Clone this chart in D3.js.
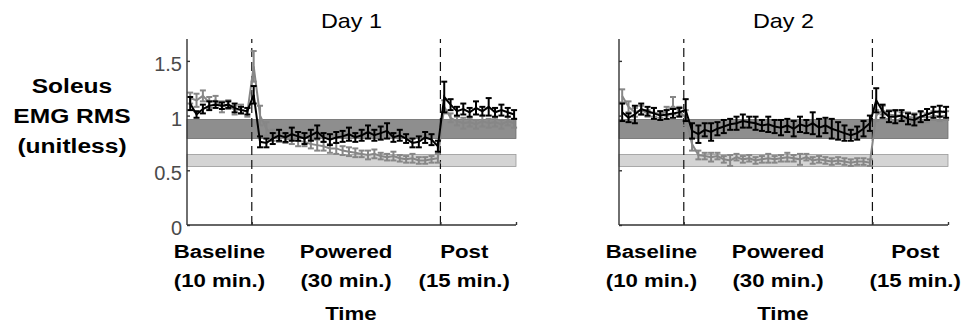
<!DOCTYPE html>
<html>
<head>
<meta charset="utf-8">
<script src="https://cdn.jsdelivr.net/npm/d3@7"></script>
<style>
  body { margin: 0; background: #fff; }
  svg { display: block; font-family: "Liberation Sans", Arial, sans-serif; }
</style>
</head>
<body>
<svg id="chart" width="968" height="327"></svg>
<script>
// Phase labels and the boundaries between phases (sample index).
var phaseNames = ["Baseline", "Powered", "Post"];
var phaseDurations = ["(10 min.)", "(30 min.)", "(15 min.)"];
var phaseBounds = [9.7, 39.4];
var yTicks = [0, 0.5, 1, 1.5];
var yTickLabels = ["0", "0.5", "1", "1.5"];

// Reference bands (normalised EMG).
var darkBand = [0.79, 0.965];
var lightBand = [0.535, 0.645];

// Day 1: 10 baseline, 30 powered, 12 post samples.
var day1Black = [1.11, 1.01, 1.06, 1.09, 1.10, 1.09, 1.10, 1.07, 1.05, 1.04,
  1.19,
  0.76, 0.75, 0.79, 0.82, 0.80, 0.83, 0.81, 0.79, 0.82, 0.85, 0.80, 0.78, 0.80, 0.81, 0.83,
  0.80, 0.82, 0.85, 0.82, 0.84, 0.86, 0.80, 0.82, 0.79, 0.75, 0.76, 0.80, 0.78, 0.72,
  1.17, 1.10, 1.04, 1.06, 1.03, 1.07, 1.04, 1.08, 1.03, 1.05, 1.03, 1.01];
var day1BlackErr = [0.06, 0.03, 0.04, 0.04, 0.03, 0.03, 0.03, 0.04, 0.03, 0.03,
  0.08,
  0.05, 0.04, 0.05, 0.05, 0.04, 0.06, 0.04, 0.05, 0.05, 0.06, 0.04, 0.05, 0.05, 0.05, 0.06,
  0.04, 0.05, 0.06, 0.05, 0.06, 0.07, 0.04, 0.05, 0.04, 0.04, 0.05, 0.05, 0.05, 0.05,
  0.14, 0.05, 0.04, 0.05, 0.04, 0.06, 0.04, 0.08, 0.04, 0.05, 0.04, 0.04];
var day1Gray = [1.16, 1.14, 1.18, 1.12, 1.14, 1.08, 1.10, 1.05, 1.06, 1.03,
  1.45,
  1.00, 0.88, 0.82, 0.80, 0.79, 0.78, 0.77, 0.76, 0.74, 0.73, 0.72, 0.70, 0.70, 0.68, 0.67,
  0.66, 0.65, 0.64, 0.65, 0.63, 0.62, 0.63, 0.61, 0.60, 0.61, 0.59, 0.59, 0.60, 0.61,
  1.08, 0.98, 0.95, 0.93, 0.94, 0.92, 0.95, 0.93, 0.94, 0.92, 0.95, 0.93];
var day1GrayErr = [0.05, 0.06, 0.05, 0.05, 0.04, 0.05, 0.04, 0.04, 0.04, 0.04,
  0.14,
  0.09, 0.06, 0.05, 0.04, 0.04, 0.04, 0.05, 0.04, 0.04, 0.05, 0.04, 0.04, 0.05, 0.04, 0.04,
  0.04, 0.03, 0.04, 0.04, 0.03, 0.03, 0.04, 0.03, 0.03, 0.04, 0.03, 0.03, 0.03, 0.04,
  0.06, 0.04, 0.04, 0.05, 0.04, 0.04, 0.05, 0.04, 0.04, 0.04, 0.04, 0.04];

// Day 2.
var day2Black = [1.03, 0.98, 1.01, 1.06, 1.04, 1.02, 1.00, 1.01, 1.02, 1.03,
  1.05,
  0.86, 0.83, 0.87, 0.85, 0.88, 0.90, 0.92, 0.93, 0.95, 0.94, 0.93, 0.91, 0.92, 0.90, 0.89,
  0.91, 0.88, 0.92, 0.90, 0.93, 0.89, 0.91, 0.88, 0.86, 0.84, 0.82, 0.84, 0.88, 0.93,
  1.14, 1.04, 0.99, 0.99, 1.00, 0.97, 0.96, 0.99, 1.01, 1.03, 1.04, 1.03];
var day2BlackErr = [0.08, 0.04, 0.08, 0.05, 0.04, 0.05, 0.04, 0.04, 0.04, 0.04,
  0.10,
  0.07, 0.08, 0.06, 0.08, 0.06, 0.06, 0.05, 0.06, 0.06, 0.05, 0.06, 0.05, 0.07, 0.06, 0.07,
  0.06, 0.07, 0.07, 0.06, 0.10, 0.08, 0.07, 0.09, 0.08, 0.07, 0.05, 0.06, 0.07, 0.07,
  0.11, 0.06, 0.05, 0.06, 0.05, 0.05, 0.05, 0.05, 0.05, 0.05, 0.05, 0.05];
var day2Gray = [1.18, 1.08, 1.03, 1.05, 1.02, 1.03, 1.01, 1.04, 1.09, 1.04,
  0.98,
  0.74, 0.64, 0.63, 0.62, 0.63, 0.60, 0.59, 0.62, 0.60, 0.61, 0.59, 0.60, 0.61, 0.60, 0.61,
  0.62, 0.61, 0.60, 0.62, 0.59, 0.60, 0.59, 0.58, 0.59, 0.58, 0.57, 0.58, 0.58, 0.57,
  1.00, 1.05, 1.01, 1.00, 1.00, 0.99, 0.98, 0.99, 0.98, 1.00, 0.99, 1.00];
var day2GrayErr = [0.06, 0.05, 0.04, 0.04, 0.03, 0.04, 0.03, 0.04, 0.08, 0.04,
  0.07,
  0.06, 0.04, 0.03, 0.04, 0.03, 0.03, 0.05, 0.03, 0.03, 0.03, 0.03, 0.03, 0.04, 0.03, 0.03,
  0.04, 0.03, 0.05, 0.03, 0.03, 0.03, 0.03, 0.03, 0.03, 0.03, 0.03, 0.03, 0.03, 0.03,
  0.05, 0.04, 0.04, 0.04, 0.03, 0.04, 0.04, 0.04, 0.04, 0.04, 0.04, 0.04];

// Layout.
var my = {
  top: 39,
  height: 186,
  width: 329,
  stretch: 1.17,       // text in the source figure is horizontally stretched
  blackColor: "#000",
  grayColor: "#878787",
  capHalf: 3,
  panels: [
    {left: 187, title: "Day 1", black: day1Black, blackErr: day1BlackErr, gray: day1Gray, grayErr: day1GrayErr, labels: true, postShift: -14},
    {left: 619, title: "Day 2", black: day2Black, blackErr: day2BlackErr, gray: day2Gray, grayErr: day2GrayErr, labels: false, postShift: 5}
  ]
};

var svg = d3.select("#chart");

var y = d3.scaleLinear().domain([0, 1.7]).range([my.top + my.height, my.top]);

function stretchedText(sel, x, yy, str, size, weight) {
  sel.append("text")
    .attr("transform", "translate(" + x + "," + yy + ") scale(" + my.stretch + ",1)")
    .attr("text-anchor", "middle")
    .attr("font-size", size)
    .attr("font-weight", weight)
    .attr("fill", "#000")
    .text(str);
}

// Y axis title.
["Soleus", "EMG RMS", "(unitless)"].forEach(function(line, i) {
  stretchedText(svg, 72, 93 + i * 30, line, 21, "bold");
});

my.panels.forEach(function(p) {
  var x = d3.scaleLinear().domain([-0.5, 51.3]).range([p.left, p.left + my.width]);
  var g = svg.append("g");
  var x0 = x.range()[0], x1 = x.range()[1];

  // Bands.
  [[darkBand, "#8e8e8e", "#6f6f6f"], [lightBand, "#d4d4d4", "#9a9a9a"]].forEach(function(b) {
    g.append("rect")
      .attr("x", x0).attr("width", x1 - x0)
      .attr("y", y(b[0][1])).attr("height", y(b[0][0]) - y(b[0][1]))
      .attr("fill", b[1]).attr("stroke", b[2]).attr("stroke-width", 0.8);
  });

  // Phase dividers.
  g.selectAll(".divider").data(phaseBounds).enter().append("line")
    .attr("x1", function(d) { return x(d); }).attr("x2", function(d) { return x(d); })
    .attr("y1", y(0)).attr("y2", my.top)
    .attr("stroke", "#111").attr("stroke-width", 1.2)
    .attr("stroke-dasharray", "9,5");

  // Series: gray first, black on top.
  [[p.gray, p.grayErr, my.grayColor], [p.black, p.blackErr, my.blackColor]].forEach(function(s) {
    var pts = s[0].map(function(v, i) { return {i: i, v: v, e: s[1][i]}; });
    var sg = g.append("g").attr("stroke", s[2]).attr("fill", "none").attr("stroke-width", 2);
    sg.append("path")
      .attr("d", d3.line().x(function(d) { return x(d.i); }).y(function(d) { return y(d.v); })(pts));
    var eb = sg.selectAll(".eb").data(pts).enter().append("g");
    eb.append("line")
      .attr("x1", function(d) { return x(d.i); }).attr("x2", function(d) { return x(d.i); })
      .attr("y1", function(d) { return y(d.v - d.e); }).attr("y2", function(d) { return y(d.v + d.e); });
    [-1, 1].forEach(function(sign) {
      eb.append("line")
        .attr("x1", function(d) { return x(d.i) - my.capHalf; }).attr("x2", function(d) { return x(d.i) + my.capHalf; })
        .attr("y1", function(d) { return y(d.v + sign * d.e); }).attr("y2", function(d) { return y(d.v + sign * d.e); });
    });
  });

  // Axes.
  var yAxis = d3.axisRight(y).tickValues(yTicks).tickSize(3).tickFormat("");
  var ya = g.append("g").attr("transform", "translate(" + x0 + ",0)").call(yAxis);
  ya.select(".domain").attr("d", "M0," + my.top + "V" + y(0));
  var xAxis = d3.axisTop(x).tickValues(phaseBounds.concat([51.3])).tickSize(3).tickFormat("");
  var xa = g.append("g").attr("transform", "translate(0," + y(0) + ")").call(xAxis);
  xa.select(".domain").attr("d", "M" + x0 + ",0H" + x1);
  g.selectAll(".domain, .tick line").attr("stroke", "#333").attr("stroke-width", 1.4);

  if (p.labels) {
    g.selectAll(".ytl").data(yTicks).enter().append("text")
      .attr("x", x0 - 5).attr("y", function(d) { return y(d) + 10; })
      .attr("text-anchor", "end").attr("font-size", 20).attr("fill", "#4a4a4a")
      .text(function(d, i) { return yTickLabels[i]; });
  }

  // Title.
  stretchedText(g, (x0 + x1) / 2, 28, p.title, 20, "normal");

  // Phase labels.
  var edges = [x.domain()[0]].concat(phaseBounds, [x.domain()[1]]);
  phaseNames.forEach(function(name, i) {
    var cx = (x(edges[i]) + x(edges[i + 1])) / 2 + (i === 2 ? p.postShift : 0);
    stretchedText(g, cx, 258, name, 19, "bold");
    stretchedText(g, cx, 287, phaseDurations[i], 19, "bold");
  });
  stretchedText(g, x(phaseBounds[0] + 15.6), 320, "Time", 19, "bold");
});
</script>
</body>
</html>
